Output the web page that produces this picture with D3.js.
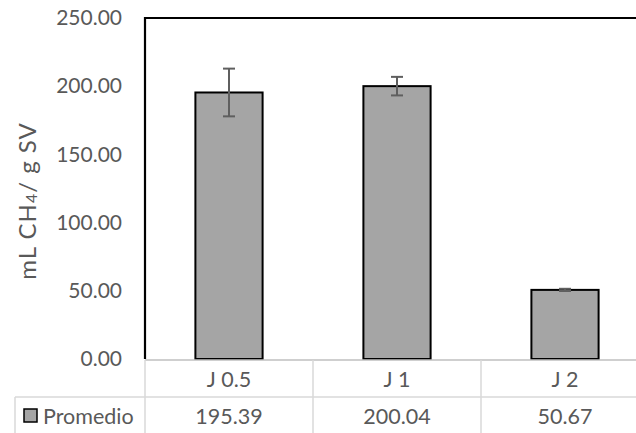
<!DOCTYPE html>
<html><head><meta charset="utf-8">
<script src="https://cdn.jsdelivr.net/npm/d3@7"></script>
<style>body{margin:0;background:#fff}svg{display:block}</style>
</head><body>
<script>
const categories = ["J 0.5", "J 1", "J 2"];
const values = [195.39, 200.04, 50.67];
const errors = [17.5, 6.8, 0.8];
const yTicks = [0, 50, 100, 150, 200, 250];
const seriesName = "Promedio";

const W = 636, H = 433;
const m = {left: 145, top: 18, plotBottom: 359};
const plotRight = 145 + 3 * 168;
const font = "Lato, 'Open Sans', sans-serif";
const txt = "#595959";

const svg = d3.select("body").append("svg").attr("width", W).attr("height", H);

const x = d3.scaleBand().domain(categories).range([m.left, plotRight]).paddingInner(0.6).paddingOuter(0.3);
const y = d3.scaleLinear().domain([0, 250]).range([m.plotBottom, m.top]);

// plot area frame (left, top, right)
svg.append("path")
  .attr("d", `M${m.left},${m.plotBottom} V${m.top} H${plotRight} V${m.plotBottom}`)
  .attr("fill", "none").attr("stroke", "#000").attr("stroke-width", 2.2);

// y axis labels
const yAxis = d3.axisLeft(y).tickValues(yTicks).tickFormat(d3.format(".2f")).tickSize(0).tickPadding(0);
const gy = svg.append("g").attr("transform", `translate(122,0)`).call(yAxis);
gy.select(".domain").remove();
gy.selectAll("text").attr("fill", txt).attr("font-family", font).attr("font-size", 21);

// y title
svg.append("text")
  .attr("transform", `translate(36,201) rotate(-90)`)
  .attr("text-anchor", "middle").attr("fill", txt).attr("font-family", font).attr("font-size", 24)
  .attr("letter-spacing", 1)
  .call(t => {
    t.append("tspan").text("mL CH");
    t.append("tspan").attr("font-size", 16).attr("dy", 1).text("4");
    t.append("tspan").attr("dy", -1).text("/ g SV");
  });

// bars
svg.append("g").selectAll("rect").data(values).join("rect")
  .attr("x", (d, i) => x(categories[i]))
  .attr("y", d => y(d))
  .attr("width", x.bandwidth())
  .attr("height", d => y(0) - y(d))
  .attr("fill", "#a5a5a5").attr("stroke", "#000").attr("stroke-width", 2);

// error bars
const eg = svg.append("g").attr("stroke", "#5f5f5f").attr("stroke-width", 2);
values.forEach((v, i) => {
  const cx = x(categories[i]) + x.bandwidth() / 2;
  const y1 = y(v + errors[i]), y2 = y(v - errors[i]);
  eg.append("line").attr("x1", cx).attr("x2", cx).attr("y1", y1).attr("y2", y2);
  eg.append("line").attr("x1", cx - 6).attr("x2", cx + 6).attr("y1", y1).attr("y2", y1);
  eg.append("line").attr("x1", cx - 6).attr("x2", cx + 6).attr("y1", y2).attr("y2", y2);
});

// data table
const rowTop = 360, rowMid = 397, rowBot = 440;
const step = x.step();
const colEdges = categories.map((c, i) => m.left + i * step).concat([plotRight]);
const grid = svg.append("g").attr("stroke", "#d9d9d9").attr("stroke-width", 1.5);
grid.append("line").attr("x1", m.left).attr("x2", plotRight).attr("y1", rowTop).attr("y2", rowTop).attr("stroke", "#bfbfbf");
grid.append("line").attr("x1", 15).attr("x2", plotRight).attr("y1", rowMid).attr("y2", rowMid);
grid.append("line").attr("x1", 15).attr("x2", 15).attr("y1", rowMid).attr("y2", rowBot);
colEdges.forEach(e => grid.append("line").attr("x1", e).attr("x2", e).attr("y1", rowTop).attr("y2", rowBot));

svg.append("g").selectAll("text").data(categories).join("text")
  .attr("x", d => x(d) + x.bandwidth() / 2).attr("y", 379).attr("dy", "0.35em")
  .attr("text-anchor", "middle").attr("fill", txt).attr("font-family", font).attr("font-size", 21.5)
  .text(d => d);

svg.append("g").selectAll("text").data(values).join("text")
  .attr("x", (d, i) => x(categories[i]) + x.bandwidth() / 2).attr("y", 416).attr("dy", "0.35em")
  .attr("text-anchor", "middle").attr("fill", txt).attr("font-family", font).attr("font-size", 21.5)
  .text(d => d3.format(".2f")(d));

// legend key
svg.append("rect").attr("x", 24).attr("y", 409).attr("width", 13).attr("height", 13)
  .attr("fill", "#a5a5a5").attr("stroke", "#000").attr("stroke-width", 1.5);
svg.append("text").attr("x", 43).attr("y", 416).attr("dy", "0.35em")
  .attr("fill", txt).attr("font-family", font).attr("font-size", 21.5).text(seriesName);
</script>
</body></html>
